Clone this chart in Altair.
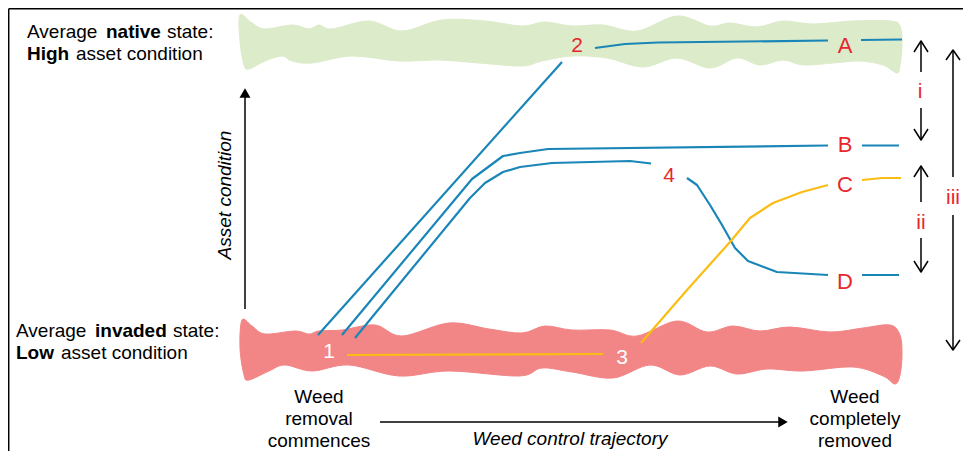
import altair as alt
import pandas as pd

FONT = "Liberation Sans"
BLUE = "#1a86b7"
YELLOW = "#fabd14"
GREEN_BAND = "#dcebc9"
RED_BAND = "#f28586"
RED_TEXT = "#e8262d"

# ---- wavy state bands (outline points, pixel space) ----
native_band_x = [240, 252, 265, 292, 309, 319, 332, 369, 402, 442, 485, 522, 545, 572, 603, 637, 677, 710, 730, 757, 783, 813, 853, 890, 900,
                 902, 900, 897,
                 883, 860, 833, 803, 783, 760, 737, 710, 677, 643, 607, 572, 542, 522, 479, 439, 399, 352, 312, 292, 282, 265, 249, 244,
                 240]
native_band_y = [15, 23, 29, 25, 29, 25, 29, 21, 31, 20, 21, 26, 22, 26, 25, 31, 16, 26, 23, 27, 21, 24, 21, 21, 26,
                 45, 65, 73,
                 65, 61, 63, 65, 60, 65, 58, 68, 58, 67, 58, 56, 61, 66, 63, 60, 61, 56, 63, 61, 56, 61, 69, 65,
                 41]
invaded_band_x = [242, 252, 265, 295, 309, 319, 342, 375, 402, 449, 489, 522, 545, 572, 610, 637, 677, 707, 733, 760, 790, 830, 863, 890, 900,
                  902, 900, 895,
                  883, 853, 803, 767, 737, 710, 680, 650, 613, 572, 542, 519, 449, 399, 349, 312, 285, 269, 249, 244,
                  240]
invaded_band_y = [320, 326, 334, 331, 334, 331, 330, 325, 336, 323, 329, 333, 326, 330, 330, 336, 321, 332, 326, 331, 327, 332, 328, 325, 335,
                  355, 375, 384,
                  376, 367, 371, 369, 374, 366, 375, 365, 378, 372, 368, 376, 371, 376, 365, 371, 365, 371, 380, 375,
                  348]

# ---- trajectories (segments broken where labels sit) ----
blue_segments = {
    "1-2": [(318, 335), (562, 62)],
    "2-A": [(595, 48), (610, 46), (625, 44), (658, 42.5), (828, 40.5)],
    "A-end": [(861, 40), (902, 39.5)],
    "1-B": [(342, 335), (472, 179), (503, 156), (520, 153), (548, 149), (828, 145.5)],
    "B-end": [(862, 145.5), (899, 145.5)],
    "1-4": [(355, 338), (470, 198), (485, 183), (503, 172), (520, 167), (552, 163), (630, 161), (651, 163.5)],
    "4-D": [(687, 178), (697, 185), (710, 205), (722, 225), (735, 248), (748, 261), (777, 272), (828, 275)],
    "D-end": [(862, 275), (899, 275)],
}
yellow_segments = {
    "1-3": [(347, 355), (603, 354)],
    "3-C": [(641, 343), (687, 290), (730, 242), (750, 218), (773, 203), (802, 192), (828, 185)],
    "C-end": [(862, 180), (882, 178), (901, 178)],
}

# ---- black arrows ----
black_segments = {
    "frame-left": [(8.7, 451), (8.7, 8.7)],
    "frame-top": [(8.7, 8.7), (963, 8.7)],
    "axis-y": [(245, 309), (245, 97)],
    "axis-x": [(380, 422), (779, 422)],
    "i-up": [(921, 41), (921, 72)],
    "i-down": [(921, 108), (921, 140)],
    "i-head-up": [(914, 52), (921, 41), (928, 52)],
    "i-head-down": [(914, 129), (921, 140), (928, 129)],
    "ii-up": [(921, 166), (921, 202)],
    "ii-down": [(921, 238), (921, 272)],
    "ii-head-up": [(914, 177), (921, 166), (928, 177)],
    "ii-head-down": [(914, 261), (921, 272), (928, 261)],
    "iii-up": [(953, 50), (953, 177)],
    "iii-down": [(953, 215), (953, 350)],
    "iii-head-up": [(946, 60), (953, 50), (960, 60)],
    "iii-head-down": [(946, 340), (953, 350), (960, 340)],
}
head_x = [245, 783]
head_y = [93, 422]
head_shape = ["triangle-up", "triangle-right"]

# ---- texts ----
# (x, y baseline, text)
left_plain = [(27, 38, "Average"), (167, 38, "state:"), (76, 60, "asset condition"),
              (16, 337, "Average"), (173, 337, "state:"), (61, 359, "asset condition")]
left_bold = [(106, 38, "native"), (27, 60, "High"), (95, 337, "invaded"), (16, 359, "Low")]
bottom_lines = [(319, 403, "Weed"), (319, 425, "removal"), (319, 447, "commences"),
                (855, 403, "Weed"), (855, 425, "completely"), (855, 447, "removed")]
italic_x = [(570, 445, "Weed control trajectory")]
italic_y = [(231, 195, "Asset condition")]
red_letters = [(845, 53, "A"), (845, 152, "B"), (845, 192, "C"), (845, 289, "D")]
red_numbers = [(577, 52, "2"), (669, 182, "4")]
red_roman = [(920, 98, "i"), (921, 229, "ii"), (953, 204, "iii")]
white_numbers = [(329, 358, "1"), (622, 364, "3")]

xs = alt.Scale(domain=[8, 963], nice=False, zero=False)
ys = alt.Scale(domain=[8, 451], nice=False, zero=False, reverse=True)
X = alt.X("x:Q", scale=xs, axis=None)
Y = alt.Y("y:Q", scale=ys, axis=None)


def seg_df(segs):
    rows = []
    for name, pts in segs.items():
        for i, (px, py) in enumerate(pts):
            rows.append({"seg": name, "i": i, "x": px, "y": py})
    return pd.DataFrame(rows)


def band(xv, yv, color):
    df = pd.DataFrame({"x": xv, "y": yv, "i": range(len(xv))})
    return alt.Chart(df).mark_line(
        fill=color, stroke=color, strokeWidth=1, interpolate="cardinal-closed"
    ).encode(x=X, y=Y, order="i:Q")


def lines(segs, color, width):
    return alt.Chart(seg_df(segs)).mark_line(
        color=color, strokeWidth=width, strokeCap="butt", strokeJoin="round"
    ).encode(x=X, y=Y, detail="seg:N", order="i:Q")


def texts(items, size, color="black", weight="normal", style="normal",
          align="left", angle=0):
    df = pd.DataFrame(items, columns=["x", "y", "t"])
    return alt.Chart(df).mark_text(
        font=FONT, fontSize=size, color=color, fontWeight=weight, fontStyle=style,
        align=align, baseline="alphabetic", angle=angle
    ).encode(x=X, y=Y, text="t:N")


heads = alt.Chart(pd.DataFrame({"x": head_x, "y": head_y, "s": head_shape})).mark_point(
    filled=True, color="black", opacity=1, size=120
).encode(x=X, y=Y, shape=alt.Shape("s:N", scale=None))

chart = alt.layer(
    band(native_band_x, native_band_y, GREEN_BAND),
    band(invaded_band_x, invaded_band_y, RED_BAND),
    lines(black_segments, "black", 1.5),
    heads,
    lines(blue_segments, BLUE, 2.2),
    lines(yellow_segments, YELLOW, 2.2),
    texts(left_plain, 19),
    texts(left_bold, 19, weight="bold"),
    texts(bottom_lines, 19, align="center"),
    texts(italic_x, 19, style="italic", align="center"),
    texts(italic_y, 19, style="italic", align="center", angle=270),
    texts(red_letters, 22, color=RED_TEXT, align="center"),
    texts(red_numbers, 21, color=RED_TEXT, align="center"),
    texts(red_roman, 21, color=RED_TEXT, align="center"),
    texts(white_numbers, 21, color="white", align="center"),
).properties(
    width=955, height=443, padding=0, autosize=alt.AutoSizeParams(type="none")
).configure_view(strokeWidth=0)

chart.save("out.html", embed_options={"renderer": "svg", "actions": False})
